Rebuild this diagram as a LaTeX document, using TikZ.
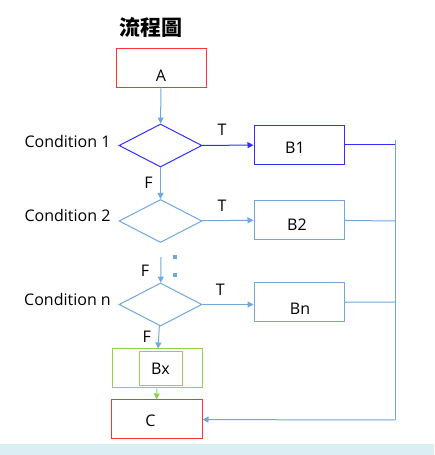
\documentclass[tikz,border=0pt]{standalone}
\usepackage{fontspec}
\setmainfont{Open Sans}
\newfontfamily\cjk{Noto Sans CJK TC}
\usetikzlibrary{shapes.geometric,arrows.meta}
\definecolor{boxred}{HTML}{FF3333}
\definecolor{darkblu}{HTML}{2F2FFF}
\definecolor{lightblu}{HTML}{6FA8DC}
\definecolor{limegrn}{HTML}{92D050}
\definecolor{bandteal}{HTML}{DAEEF3}

\begin{document}
\begin{tikzpicture}[x=1pt,y=1pt,
    font=\fontsize{16}{19}\selectfont,
    box/.style={draw,line width=1pt,minimum width=90pt,minimum height=39pt,inner sep=0pt},
    cond/.style={draw,diamond,line width=1pt,minimum width=83pt,minimum height=43pt,inner sep=0pt},
    flow/.style={line width=1pt,-{Triangle[length=6pt,width=6pt]}}]
    \useasboundingbox (0,0) rectangle (434,455);
    \fill[bandteal] (0,0) rectangle (434,11);

    % Title
    \node (title) at (151,428) {\cjk\bfseries\fontsize{21}{24}\selectfont 流程圖};

    % Boxes
    \node[box,boxred,label={[black,yshift=-7pt]center:A}] (A) at (161,386.5) {};
    \node[box,darkblu,label={[black,xshift=-4pt,yshift=-3pt]center:B1}] (B1) at (299,310) {};
    \node[box,lightblu,label={[black,xshift=-2pt,yshift=-5pt]center:B2}] (B2) at (299,235) {};
    \node[box,lightblu,label={[black,xshift=1pt,yshift=-6pt]center:Bn}] (Bn) at (299,152.5) {};
    \node[box,limegrn] (Bx) at (157,86.5) {};
    \node[draw,limegrn,text=black,line width=1pt,minimum width=43pt,minimum height=34pt] (Bxin) at (160.5,86.5) {Bx};
    \node[box,boxred,minimum width=91pt,label={[black,xshift=-6pt,yshift=-1pt]center:C}] (C) at (156.5,35.5) {};

    % Conditions
    \node[cond,darkblu] (c1) at (160.5,309.5) {};
    \node[cond,lightblu] (c2) at (160.5,234) {};
    \node[cond,lightblu] (cn) at (160.5,150.5) {};
    \node (c1txt) at (67.5,313) {Condition 1};
    \node (c2txt) at (67.5,239) {Condition 2};
    \node (cntxt) at (67.5,155) {Condition n};

    % Dots
    \node[fill=lightblu,minimum size=3.5pt,inner sep=0pt] (dot1) at (175,198) {};
    \node[fill=lightblu,minimum size=3.5pt,inner sep=0pt] (dot2) at (175,180) {};
    \coordinate (gap) at (161,198);

    % Bus on the right
    \coordinate (bustop) at (395,315);
    \coordinate (busbot) at (395,35);
    \coordinate (b1in) at (395,310);
    \coordinate (b2in) at (395,234);
    \coordinate (bnin) at (395,153);
    \draw[lightblu,line width=1pt] (bustop) -- (busbot);

    % Arrows
    \draw[flow,lightblu] (A) -- (c1);
    \draw[flow,darkblu] (c1) -- (B1);
    \draw[flow,lightblu] (c1) -- (c2) node[pos=0.5,left=4pt,black] (f1) {F};
    \draw[flow,lightblu] (c2) -- (B2);
    \draw[flow,lightblu] (gap) -- (cn) node[pos=0.55,left=8pt,black] (f2) {F};
    \draw[flow,lightblu] (cn) -- (B2.west |- cn) node[pos=0.35,above=5pt,black] (tn) {T};
    \draw[flow,lightblu] (cn) -- (Bx) node[pos=0.5,left=4pt,black] (f3) {F};
    \draw[flow,limegrn] (Bx) -- (C);
    \draw[darkblu,line width=1pt] (B1) -- (b1in);
    \draw[lightblu,line width=1pt] (B2) -- (b2in);
    \draw[lightblu,line width=1pt] (Bn) -- (bnin);
    \draw[flow,lightblu] (busbot) -- (C);

    % Labels
    \node (t1) at (222,325) {T};
    \node (t2) at (222,249) {T};
\end{tikzpicture}
\end{document}
